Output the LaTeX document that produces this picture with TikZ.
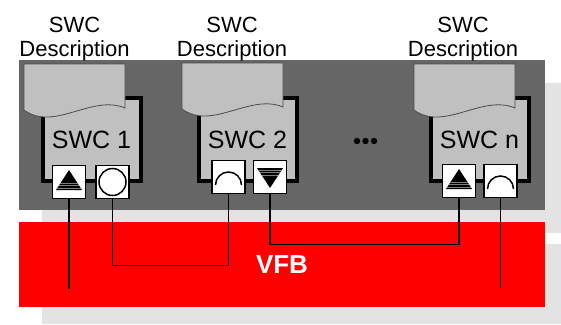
\documentclass[tikz,border=0pt]{standalone}
\usepackage{fontspec}
\setmainfont{Liberation Sans}
\usetikzlibrary{positioning}

\definecolor{bggray}{HTML}{666666}
\definecolor{shadowgray}{HTML}{E3E3E3}
\definecolor{swcgray}{HTML}{C0C0C0}
\definecolor{vfbred}{HTML}{FF0000}

\begin{document}
\begin{tikzpicture}[
  x=1pt, y=-1pt,
  font=\fontsize{22}{24}\selectfont,
  plate/.style={draw=none, inner sep=0pt},
  shadow/.style={plate, fill=shadowgray, minimum width=519pt},
  swc/.style={draw=black, line width=4pt, fill=swcgray, minimum width=98pt, minimum height=83pt, font=\fontsize{25}{25}\selectfont},
  desc/.style={anchor=south, align=center, inner sep=0pt},
  port/.style={draw=black, line width=1.5pt, fill=white, minimum size=33pt, inner sep=0pt},
  sendport/.style={port, path picture={
    \coordinate (pc) at (path picture bounding box.center);
    \begin{scope}
      \clip ([shift={(0,-12)}]pc) -- ([shift={(13,8)}]pc) -- ([shift={(-13,8)}]pc) -- cycle;
      \fill[black] ([shift={(-14,-13)}]pc) rectangle ([shift={(14,9)}]pc);
      \foreach \d in {1,3.5,6}
        \draw[black!50, line width=0.3pt] ([shift={(-14,\d)}]pc) -- ([shift={(14,\d)}]pc);
    \end{scope}
  }},
  downport/.style={port, path picture={
    \coordinate (pc) at (path picture bounding box.center);
    \begin{scope}
      \clip ([shift={(-13,-9)}]pc) -- ([shift={(13,-9)}]pc) -- ([shift={(0,11)}]pc) -- cycle;
      \fill[black] ([shift={(-14,-10)}]pc) rectangle ([shift={(14,12)}]pc);
      \foreach \d in {-7,-4.5,-2}
        \draw[black!50, line width=0.3pt] ([shift={(-14,\d)}]pc) -- ([shift={(14,\d)}]pc);
    \end{scope}
  }},
  recvport/.style={port, path picture={
    \draw[line width=1.5pt] (path picture bounding box.center) circle[radius=13.5pt];
  }},
  serverport/.style={port, path picture={
    \draw[line width=1.5pt] ([shift={(13,8)}]path picture bounding box.center) arc[start angle=0, end angle=180, radius=13pt];
  }},
  swcdoc/.pic={
    \path[fill=swcgray, draw=black!70, line width=0.8pt]
      (0,0) -- (101,0) -- (101,44) .. controls (68,30) and (30,68) .. (0,46) -- cycle;
  },
  wire/.style={draw=black, line width=1.2pt},
]
\useasboundingbox (0,0) rectangle (561,324);

% -- shadows and plates --
\node[shadow, minimum height=80pt] (vfbshadow) at (301.5,284) {};
\node[shadow, minimum height=150pt] (swcshadow) at (301.5,158) {};
\node[plate, fill=bggray, minimum width=526pt, minimum height=150pt] (swcplate) at (282,135) {};
\node[plate, fill=vfbred, minimum width=526pt, minimum height=85pt, text=white, font=\bfseries\fontsize{26}{26}\selectfont] (vfb) at (282,264.5) {VFB};

% -- software components --
\node[swc] (swc1) at (91.5,139.5) {SWC 1};
\node[swc] (swc2) at (247.5,139.5) {SWC 2};
\node[swc] (swcn) at (479.5,139.5) {SWC n};

\fill (357,141) circle[radius=3.2pt];
\fill (365.5,141) circle[radius=3.2pt];
\fill (374,141) circle[radius=3.2pt];

% -- ports --
\node[sendport] (p11) at (69,182) {};
\node[recvport, right=9pt of p11] (p12) {};
\node[serverport] (p21) at (228.5,177) {};
\node[downport, right=7pt of p21] (p22) {};
\node[sendport] (pn1) at (459,181) {};
\node[serverport, right=7pt of pn1] (pn2) {};

% -- descriptions --
\pic (doc1) at (24,64) {swcdoc};
\pic (doc2) at (182,63) {swcdoc};
\pic (docn) at (414,64) {swcdoc};
\node[desc] (lbl1) at (74.5,61.5) {SWC\\Description};
\node[desc] (lbl2) at (232,61.5) {SWC\\Description};
\node[desc] (lbln) at (463,61.5) {SWC\\Description};

% -- connections over the VFB --
\draw[wire] (p11.south) -- ++(0,90);
\draw[wire] (p12.south) -- ++(0,66) -| (p21.south);
\draw[wire] (p22.south) -- ++(0,50) -| (pn1.south);
\draw[wire] (pn2.south) -- ++(0,90);

\end{tikzpicture}
\end{document}
